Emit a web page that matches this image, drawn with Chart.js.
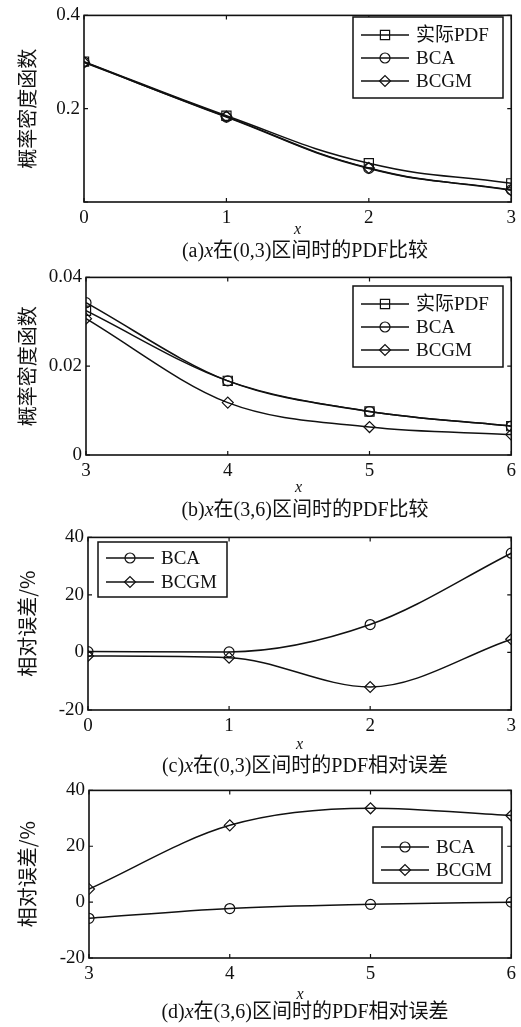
<!DOCTYPE html>
<html>
<head>
<meta charset="utf-8">
<script src="https://cdn.jsdelivr.net/npm/chart.js@4"></script>
<style>
  body { margin: 0; background: #fff; }
  #wrap { position: relative; width: 521px; height: 1027px; }
  .box { position: absolute; left: 0; width: 521px; }
  .cap { position: absolute; left: 90px; width: 430px; text-align: center;
         font: 20px "Liberation Serif", "Noto Sans CJK SC", serif; color: #111; white-space: nowrap; }
</style>
</head>
<body>
<div id="wrap">
  <div class="box" style="top:0;height:240px"><canvas id="chartA"></canvas></div>
  <div class="cap" style="top:234px">(a)<i>x</i>在(0,3)区间时的PDF比较</div>
  <div class="box" style="top:262px;height:236px"><canvas id="chartB"></canvas></div>
  <div class="cap" style="top:493px">(b)<i>x</i>在(3,6)区间时的PDF比较</div>
  <div class="box" style="top:522px;height:233px"><canvas id="chartC"></canvas></div>
  <div class="cap" style="top:749px">(c)<i>x</i>在(0,3)区间时的PDF相对误差</div>
  <div class="box" style="top:775px;height:230px"><canvas id="chartD"></canvas></div>
  <div class="cap" style="top:995px">(d)<i>x</i>在(3,6)区间时的PDF相对误差</div>
</div>
<script>
// x positions of the markers
var xLow = [0, 1, 2, 3];
var xHigh = [3, 4, 5, 6];

// (a) PDF on (0,3)
var pdfLowActual = [0.301, 0.185, 0.083, 0.040];
var pdfLowBCA = [0.300, 0.182, 0.072, 0.026];
var pdfLowBCGM = [0.299, 0.183, 0.073, 0.025];

// (b) PDF on (3,6)
var pdfHighActual = [0.0325, 0.0167, 0.0098, 0.0065];
var pdfHighBCA = [0.0343, 0.0167, 0.0098, 0.0065];
var pdfHighBCGM = [0.0307, 0.0118, 0.0063, 0.0046];

// (c) relative error on (0,3), %
var errLowBCA = [0.3, 0.2, 9.7, 34.5];
var errLowBCGM = [-1.2, -1.8, -12.0, 4.6];

// (d) relative error on (3,6), %
var errHighBCA = [-5.8, -2.3, -0.8, 0.0];
var errHighBCGM = [4.7, 27.5, 33.6, 31.0];

var INK = '#111';
var SERIF = '"Liberation Serif", "Noto Sans CJK SC", serif';

function pts(xs, ys) {
    return xs.map(function(x, i) { return { x: x, y: ys[i] }; });
}

function series(label, xs, ys, style, smooth) {
    var r = style === 'rect' ? 6.5 : 5;
    if (style === 'rectRot') r = 5.5;
    var ds = {
        label: label,
        data: pts(xs, ys),
        borderColor: INK,
        backgroundColor: 'rgba(0,0,0,0)',
        borderWidth: 1.5,
        pointStyle: style,
        pointRadius: r,
        pointBorderWidth: 1.2,
        pointBorderColor: INK,
        pointBackgroundColor: 'rgba(0,0,0,0)'
    };
    if (smooth === 'tension') ds.tension = 0.45;
    else ds.cubicInterpolationMode = 'monotone';
    return ds;
}

// box around the axes, inward tick marks, and the boxed legend
var framePlugin = {
    id: 'frame',
    afterDraw: function(chart, args, opts) {
        var ctx = chart.ctx, a = chart.chartArea;
        var xs = chart.scales.x, ys = chart.scales.y;
        ctx.save();
        ctx.strokeStyle = INK;
        ctx.lineWidth = 1.2;
        xs.ticks.forEach(function(t) {
            var px = xs.getPixelForValue(t.value);
            ctx.beginPath();
            ctx.moveTo(px, a.bottom); ctx.lineTo(px, a.bottom - 4);
            ctx.moveTo(px, a.top); ctx.lineTo(px, a.top + 4);
            ctx.stroke();
        });
        ys.ticks.forEach(function(t) {
            var py = ys.getPixelForValue(t.value);
            ctx.beginPath();
            ctx.moveTo(a.left, py); ctx.lineTo(a.left + 4, py);
            ctx.moveTo(a.right, py); ctx.lineTo(a.right - 4, py);
            ctx.stroke();
        });
        ctx.lineWidth = 1.6;
        ctx.strokeRect(a.left, a.top, a.right - a.left, a.bottom - a.top);

        // legend
        var L = opts.box;
        ctx.fillStyle = '#fff';
        ctx.fillRect(L.left, L.top, L.right - L.left, L.bottom - L.top);
        ctx.lineWidth = 1.5;
        ctx.strokeRect(L.left, L.top, L.right - L.left, L.bottom - L.top);
        ctx.font = '19px ' + SERIF;
        ctx.textBaseline = 'middle';
        ctx.textAlign = 'left';
        chart.data.datasets.forEach(function(ds, i) {
            var y = L.rows[i];
            ctx.beginPath();
            ctx.lineWidth = 1.5;
            ctx.moveTo(L.left + 8, y); ctx.lineTo(L.left + 56, y);
            ctx.stroke();
            ctx.lineWidth = 1.2;
            ctx.fillStyle = 'rgba(0,0,0,0)';
            Chart.helpers.drawPoint(ctx, {
                pointStyle: ds.pointStyle, radius: ds.pointRadius, rotation: 0, borderWidth: 1.2
            }, L.left + 32, y);
            ctx.fillStyle = INK;
            ctx.fillText(ds.label, L.left + 63, y + 1);
        });
        ctx.restore();
    }
};

function makeChart(id, xs, datasets, y, legendBox, yTitle, h) {
    return new Chart(document.getElementById(id), {
        type: 'line',
        data: { datasets: datasets },
        options: {
            responsive: true,
            maintainAspectRatio: false,
            animation: false,
            events: [],
            layout: { padding: { top: 13, right: 9, left: 0, bottom: 0 } },
            plugins: {
                legend: { display: false },
                tooltip: { enabled: false },
                frame: { box: legendBox }
            },
            scales: {
                x: {
                    type: 'linear',
                    min: xs[0], max: xs[xs.length - 1],
                    grid: { display: false, drawTicks: false },
                    border: { display: false },
                    ticks: { stepSize: 1, color: INK, padding: 5, font: { family: SERIF, size: 19 } },
                    title: { display: true, text: 'x', color: INK, padding: { top: 0, bottom: 1 },
                             font: { family: SERIF, size: 16, style: 'italic' } },
                    afterFit: function(s) { s.height = h.xAxis; }
                },
                y: {
                    min: y.min, max: y.max,
                    grid: { display: false, drawTicks: false },
                    border: { display: false },
                    ticks: {
                        stepSize: y.step, color: INK, padding: 4,
                        font: { family: SERIF, size: 19 },
                        callback: function(v) { return y.hideZero && v === 0 ? '' : String(+v.toFixed(3)); }
                    },
                    title: { display: true, text: yTitle, color: INK, padding: { top: 15, bottom: 0 },
                             font: { family: '"Noto Sans CJK SC", sans-serif', size: 20 } },
                    afterFit: function(s) { s.width = h.yAxis; }
                }
            }
        },
        plugins: [framePlugin]
    });
}

makeChart('chartA', xLow, [
    series('实际PDF', xLow, pdfLowActual, 'rect', 'tension'),
    series('BCA', xLow, pdfLowBCA, 'circle', 'tension'),
    series('BCGM', xLow, pdfLowBCGM, 'rectRot', 'tension')
], { min: 0, max: 0.4, step: 0.2, hideZero: true },
   { left: 353, right: 503, top: 17, bottom: 98, rows: [35, 58, 81] },
   '概率密度函数', { xAxis: 38, yAxis: 84 });

makeChart('chartB', xHigh, [
    series('实际PDF', xHigh, pdfHighActual, 'rect'),
    series('BCA', xHigh, pdfHighBCA, 'circle'),
    series('BCGM', xHigh, pdfHighBCGM, 'rectRot')
], { min: 0, max: 0.04, step: 0.02 },
   { left: 353, right: 503, top: 24, bottom: 105, rows: [42, 65, 88] },
   '概率密度函数', { xAxis: 43, yAxis: 86 });

makeChart('chartC', xLow, [
    series('BCA', xLow, errLowBCA, 'circle'),
    series('BCGM', xLow, errLowBCGM, 'rectRot')
], { min: -20, max: 40, step: 20 },
   { left: 98, right: 227, top: 20, bottom: 75, rows: [36, 60] },
   '相对误差/%', { xAxis: 45, yAxis: 88 });

makeChart('chartD', xHigh, [
    series('BCA', xHigh, errHighBCA, 'circle'),
    series('BCGM', xHigh, errHighBCGM, 'rectRot')
], { min: -20, max: 40, step: 20 },
   { left: 373, right: 502, top: 52, bottom: 108, rows: [72, 95] },
   '相对误差/%', { xAxis: 47, yAxis: 89 });
</script>
</body>
</html>
